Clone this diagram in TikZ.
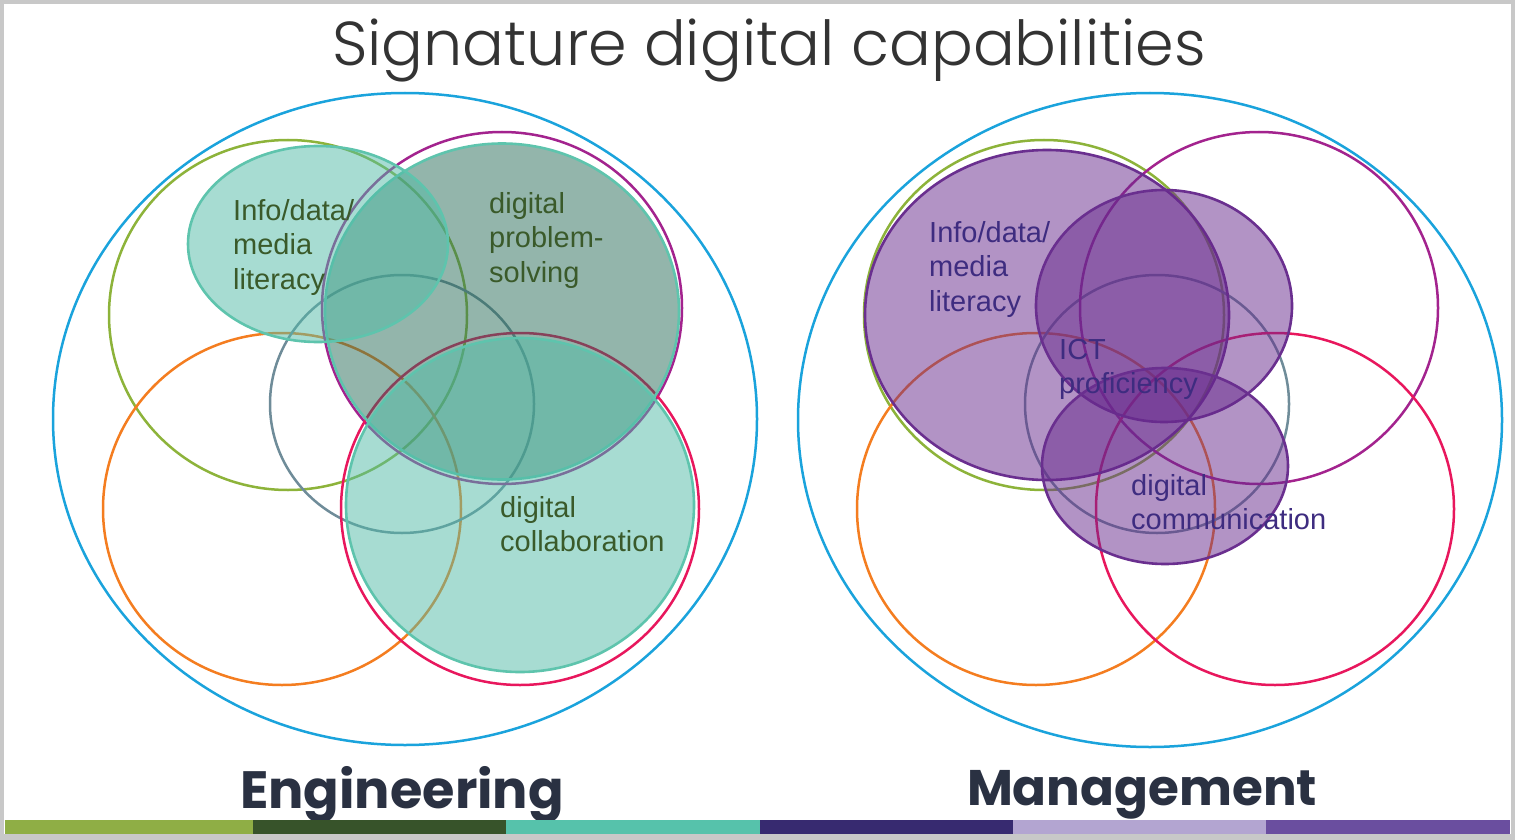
\documentclass[tikz,border=0pt]{standalone}
\usepackage{fontspec}
\setmainfont{Liberation Sans}
\newfontfamily\titlefont{Poppins}
\newfontfamily\titlelight{Poppins Light}
\usetikzlibrary{positioning}
\definecolor{frameg}{HTML}{C8C8C8}
\definecolor{cblue}{HTML}{1AA3DC}
\definecolor{cgreen}{HTML}{8DB33A}
\definecolor{corange}{HTML}{F47D20}
\definecolor{cslate}{HTML}{6F8C99}
\definecolor{cmag}{HTML}{A3238E}
\definecolor{cred}{HTML}{E8175D}
\definecolor{tealfill}{RGB}{81,187,167}
\definecolor{grayfill}{RGB}{40,108,88}
\definecolor{tealline}{HTML}{5EC4AD}
\definecolor{purpfill}{RGB}{103,41,141}
\definecolor{purpline}{HTML}{6A2F8F}
\definecolor{gtext}{HTML}{3A5A2A}
\definecolor{ptext}{HTML}{3E2C80}
\definecolor{titlec}{HTML}{333333}
\definecolor{headc}{HTML}{2A3142}
\definecolor{b1}{HTML}{8FAE45}
\definecolor{b2}{HTML}{37532A}
\definecolor{b3}{HTML}{56C2AB}
\definecolor{b4}{HTML}{372A70}
\definecolor{b5}{HTML}{B3A5D1}
\definecolor{b6}{HTML}{6A4E9F}
\tikzset{
  ring/.style={line width=2.5pt},
  tealblob/.style={fill=tealfill, fill opacity=0.5, draw=tealline, draw opacity=1, line width=2.6pt},
  grayblob/.style={fill=grayfill, fill opacity=0.5, draw=tealline, draw opacity=1, line width=2.6pt},
  purpblob/.style={fill=purpfill, fill opacity=0.5, draw=purpline, draw opacity=1, line width=2.6pt},
  glabel/.style={anchor=north west, inner sep=0pt, align=left, text=gtext, font=\fontsize{29}{34.5}\selectfont},
  plabel/.style={anchor=north west, inner sep=0pt, align=left, text=ptext, font=\fontsize{29}{34.5}\selectfont},
  heading/.style={anchor=base, inner sep=0pt, text=headc}
}
\begin{document}
\begin{tikzpicture}[x=1pt,y=-1pt]
\useasboundingbox (0,0) rectangle (1515,840);
\fill[white] (0,0) rectangle (1515,840);
% frame
\draw[frameg, line width=4pt] (2,2) rectangle (1513,838);
\fill[frameg] (0,834) rectangle (1515,840);
% title
\node[anchor=base, inner sep=0pt, text=titlec, font=\titlelight\fontsize{62}{72}\selectfont] (title) at (769,66) {Signature digital capabilities};
% ===== Left panel =====
\draw[ring, cblue] (405,419) ellipse [x radius=352, y radius=326];
\draw[ring, cgreen] (288,315) ellipse [x radius=179, y radius=175];
\draw[ring, corange] (282,509) ellipse [x radius=179, y radius=176];
\draw[ring, cslate] (402,404) ellipse [x radius=132, y radius=129];
\draw[ring, cmag] (502,308) ellipse [x radius=180, y radius=176];
\draw[ring, cred] (520,509) ellipse [x radius=179, y radius=176];
\draw[grayblob] (502,311.5) ellipse [x radius=177, y radius=168];
\draw[tealblob] (520,505) ellipse [x radius=174, y radius=167];
\draw[tealblob] (318,244) ellipse [x radius=130, y radius=98];
\node[glabel] (l1) at (233,199) {Info/data/\\media\\literacy};
\node[glabel] (l2) at (489,192) {digital\\problem-\\solving};
\node[glabel] (l3) at (500,496) {digital\\collaboration};
\node[heading, font=\titlefont\bfseries\fontsize{52.5}{62}\selectfont] (eng) at (402,808) {Engineering};
% ===== Right panel =====
\draw[ring, cblue] (1150,420) ellipse [x radius=352, y radius=327];
\draw[ring, cgreen] (1044,315) ellipse [x radius=180, y radius=175];
\draw[ring, corange] (1036,509) ellipse [x radius=179, y radius=176];
\draw[ring, cslate] (1157,404) ellipse [x radius=132, y radius=129];
\draw[ring, cmag] (1259,308) ellipse [x radius=179, y radius=176];
\draw[ring, cred] (1275,509) ellipse [x radius=179, y radius=176];
\draw[purpblob] (1047,315) ellipse [x radius=182, y radius=165];
\draw[purpblob] (1164,306) ellipse [x radius=128, y radius=116];
\draw[purpblob] (1165,466) ellipse [x radius=123, y radius=98];
\node[plabel] (r1) at (929,221) {Info/data/\\media\\literacy};
\node[plabel] (r2) at (1059,339) {ICT\\proficiency};
\node[plabel] (r3) at (1131,474) {digital\\communication};
\node[heading, font=\titlefont\bfseries\fontsize{50}{60}\selectfont] (man) at (1142,805) {Management};
% bottom bar
\fill[b1] (5,820) rectangle (253,834);
\fill[b2] (253,820) rectangle (506,834);
\fill[b3] (506,820) rectangle (760,834);
\fill[b4] (760,820) rectangle (1013,834);
\fill[b5] (1013,820) rectangle (1266,834);
\fill[b6] (1266,820) rectangle (1510,834);
\end{tikzpicture}
\end{document}
